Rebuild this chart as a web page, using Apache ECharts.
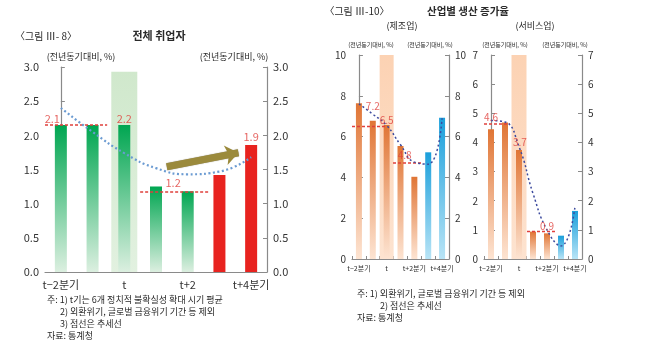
<!DOCTYPE html>
<html><head><meta charset="utf-8">
<script src="https://cdn.jsdelivr.net/npm/echarts@6/dist/echarts.min.js"></script>
<style>html,body{margin:0;padding:0;background:#fff}#c{width:650px;height:355px}</style>
</head><body><div id="c"></div>
<script>
// ---------- data ----------
const cats = ['t-2', 't-1', 't', 't+1', 't+2', 't+3', 't+4'];
const tickL = ['t−2분기', '', 't', '', 't+2', '', 't+4분기'];
const tickR = ['t−2분기', '', 't', '', 't+2분기', '', 't+4분기'];

const empVals  = [2.15, 2.15, 2.15, 1.25, 1.18, 1.42, 1.86];
const empTrend = [2.40, 2.05, 1.74, 1.52, 1.43, 1.47, 1.68];
const empShade = [null, null, 2.93, null, null, null, null];

const mfgVals  = [7.63, 6.78, 6.57, 5.54, 4.03, 5.23, 6.93];
const mfgTrend = [7.60, 7.10, 6.55, 5.60, 4.75, 4.65, 6.90];
const mfgShade = [null, null, 10, null, null, null, null];

const svcVals  = [4.45, 4.68, 3.74, 0.94, 0.88, 0.80, 1.65];
const svcTrend = [4.75, 4.70, 3.85, 2.25, 1.00, 0.45, 1.80];
const svcShade = [null, null, 7, null, null, null, null];

const forecastFrom = 5; // bars from this index are the latest/forecast quarters

// average reference lines: [fromIndex, toIndex, value]
const empRef = [[-0.5, 1.46, 2.15], [2.5, 4.7, 1.17]];
const mfgRef = [[-0.5, 1.88, 6.5], [2.46, 4.62, 4.7]];
const svcRef = [[-0.5, 1.36, 4.63], [2.57, 4.57, 0.94]];

// value labels: [index, value, text]
const empLbl = [[-0.27, 2.24, '2.1'], [2, 2.24, '2.2'], [3.54, 1.30, '1.2'], [6, 1.98, '1.9']];
const mfgLbl = [[1.0, 7.5, '7.2'], [2.0, 6.8, '6.5'], [3.3, 5.1, '4.8']];
const svcLbl = [[0.0, 4.87, '4.6'], [2.07, 4.0, '3.7'], [4.0, 1.13, '0.9']];

// trend arrow (left panel): [index, value] start -> end
const empArrow = [[3.34, 1.54], [5.6, 1.745]];

// ---------- styles ----------
const grad = (a, b) => ({type: 'linear', x: 0, y: 0, x2: 0, y2: 1, colorStops: [{offset: 0, color: a}, {offset: 1, color: b}]});
const REF = '#e0403c';
const FONT = '"Noto Sans CJK KR", "Noto Sans", sans-serif';

const panels = [
  {grid: {left: 45, top: 67, width: 222, height: 205}, max: 3, interval: 0.5, dec: 1,
   vals: empVals, trend: empTrend, shade: empShade, ref: empRef, lbl: empLbl,
   past: grad('#00a651', '#dcefe0'), fut: grad('#e8231f', '#e8231f'),
   shadeCol: grad('#d0e8cc', '#e2f1e0'), barW: 12, shadeW: 26,
   trendCol: '#6b9bd2', trendW: 2.2, ticks: tickL, tickSize: 11, ySize: 11, lblSize: 11, xTick: false},
  {grid: {left: 352, top: 55, width: 97, height: 204}, max: 10, interval: 2, dec: 0,
   vals: mfgVals, trend: mfgTrend, shade: mfgShade, ref: mfgRef, lbl: mfgLbl,
   past: grad('#e07535', '#fde4d2'), fut: grad('#1a9fdb', '#b8e4f6'),
   shadeCol: grad('#fcd2b3', '#fde3d0'), barW: 6, shadeW: 14,
   trendCol: '#3d4b9e', trendW: 1.5, ticks: tickR, tickSize: 7, ySize: 10, lblSize: 10, xTick: true},
  {grid: {left: 484, top: 55, width: 98, height: 204}, max: 7, interval: 1, dec: 0,
   vals: svcVals, trend: svcTrend, shade: svcShade, ref: svcRef, lbl: svcLbl,
   past: grad('#e07535', '#fde4d2'), fut: grad('#1a9fdb', '#b8e4f6'),
   shadeCol: grad('#fcd2b3', '#fde3d0'), barW: 6, shadeW: 15,
   trendCol: '#3d4b9e', trendW: 1.5, ticks: tickR, tickSize: 7, ySize: 10, lblSize: 10, xTick: true}
];

const grids = [], xAxes = [], yAxes = [], series = [];
panels.forEach((p, i) => {
  grids.push(Object.assign({containLabel: false}, p.grid));
  const xb = xAxes.length, yb = yAxes.length;
  xAxes.push({type: 'category', gridIndex: i, data: cats,
    axisLine: {lineStyle: {color: '#8a8a8a', width: 1.2}},
    axisTick: {show: p.xTick, inside: true, length: 3, lineStyle: {color: '#8a8a8a'}},
    axisLabel: {interval: 0, hideOverlap: false, fontSize: p.tickSize, color: '#333', fontFamily: FONT,
      margin: p.xTick ? 6 : 7, formatter: (v, idx) => p.ticks[idx]}});
  xAxes.push({type: 'category', gridIndex: i, data: cats, show: false});
  xAxes.push({type: 'value', gridIndex: i, min: -0.5, max: 6.5, show: false});
  const yCommon = {type: 'value', gridIndex: i, min: 0, max: p.max, interval: p.interval,
    splitLine: {show: false},
    axisLine: {show: true, lineStyle: {color: '#8a8a8a', width: 1.2}},
    axisTick: {show: true, inside: true, length: 4, lineStyle: {color: '#8a8a8a'}},
    axisLabel: {fontSize: p.ySize, color: '#333', fontFamily: FONT, margin: 6,
      formatter: v => v.toFixed(p.dec)}};
  yAxes.push(Object.assign({position: 'left'}, yCommon));
  yAxes.push(Object.assign({position: 'right'}, yCommon));

  series.push({type: 'bar', xAxisIndex: xb + 1, yAxisIndex: yb, data: p.shade, barWidth: p.shadeW,
    itemStyle: {color: p.shadeCol}, silent: true, z: 1});
  series.push({type: 'bar', xAxisIndex: xb, yAxisIndex: yb, barWidth: p.barW, z: 2,
    data: p.vals.map((v, k) => ({value: v, itemStyle: {color: k >= forecastFrom ? p.fut : p.past}}))});
  p.ref.forEach(r => series.push({type: 'line', xAxisIndex: xb + 2, yAxisIndex: yb, z: 3,
    data: [[r[0], r[2]], [r[1], r[2]]], symbol: 'none',
    lineStyle: {color: REF, width: 1.5, type: [3, 2]}}));
  series.push({type: 'line', xAxisIndex: xb, yAxisIndex: yb, data: p.trend, smooth: 0.5, symbol: 'none', z: 4,
    lineStyle: {color: p.trendCol, width: p.trendW, type: [2, 2.5]}});
  series.push({type: 'scatter', xAxisIndex: xb + 2, yAxisIndex: yb, symbolSize: 0, z: 5,
    data: p.lbl.map(l => ({value: [l[0], l[1]], name: l[2]})),
    label: {show: true, position: 'inside', formatter: q => q.name, color: REF, fontSize: p.lblSize, fontFamily: FONT}});
  if (i === 0) {
    series.push({type: 'line', xAxisIndex: xb + 2, yAxisIndex: yb, data: [], z: 6,
      markLine: {silent: true, symbol: ['none', 'arrow'], symbolSize: [15, 13],
        lineStyle: {color: '#9b8a3c', width: 7, type: 'solid', shadowColor: 'rgba(60,50,20,0.6)', shadowBlur: 1},
        label: {show: false},
        data: [[{coord: empArrow[0]}, {coord: empArrow[1]}]]}});
  }
});

// text centred vertically on y, left-aligned at x
const txt = (x, y, t, size, extra) => ({type: 'text', x: x, y: y,
  style: Object.assign({text: t, fontSize: size, fill: '#2a2a2a', fontFamily: FONT, align: 'left', verticalAlign: 'middle'}, extra || {})});
const ctr = (x, y, t, size, extra) => ({type: 'text', x: x, y: y,
  style: Object.assign({text: t, fontSize: size, fill: '#2a2a2a', fontFamily: FONT, align: 'center', verticalAlign: 'middle'}, extra || {})});

const graphics = [
  ctr(46, 36, '〈그림 Ⅲ- 8〉', 10),
  ctr(159, 36, '전체 취업자', 11, {fontWeight: 'bold'}),
  ctr(81, 57, '(전년동기대비, %)', 9),
  ctr(234, 57, '(전년동기대비, %)', 9),
  txt(47, 300, '주: 1) t기는 6개 정치적 불확실성 확대 시기 평균', 9),
  txt(60, 312, '2) 외환위기, 글로벌 금융위기 기간 등 제외', 9),
  txt(60, 324, '3) 점선은 추세선', 9),
  txt(47, 336, '자료: 통계청', 9),
  ctr(357, 11, '〈그림 Ⅲ-10〉', 10),
  ctr(468, 11, '산업별 생산 증가율', 10.5, {fontWeight: 'bold'}),
  ctr(402, 26, '(제조업)', 9),
  ctr(535, 26, '(서비스업)', 9),
  ctr(371, 45, '(전년동기대비, %)', 6),
  ctr(430, 45, '(전년동기대비, %)', 6),
  ctr(505, 45, '(전년동기대비, %)', 6),
  ctr(565, 45, '(전년동기대비, %)', 6),
  txt(357, 294, '주: 1) 외환위기, 글로벌 금융위기 기간 등 제외', 9),
  txt(380, 306, '2) 점선은 추세선', 9),
  txt(357, 318, '자료: 통계청', 9)
];

const chart = echarts.init(document.getElementById('c'), null, {renderer: 'canvas'});
chart.setOption({
  animation: false,
  backgroundColor: '#fff',
  textStyle: {fontFamily: FONT},
  grid: grids, xAxis: xAxes, yAxis: yAxes, series: series,
  graphic: graphics
});
</script></body></html>
